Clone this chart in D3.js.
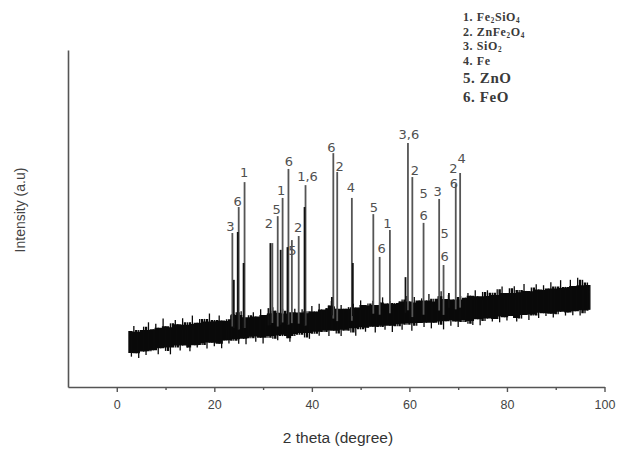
<!DOCTYPE html>
<html><head><meta charset="utf-8">
<script src="https://cdn.jsdelivr.net/npm/d3@7/dist/d3.min.js"></script>
<style>html,body{margin:0;padding:0;background:#fff;}svg{display:block;}</style>
</head><body>
<svg id="c" width="620" height="456"></svg>
<script>
// ---------- DATA ----------
const noiseStart = 2.5, noiseStep = 0.5;
const noiseHigh = [
16.6,15.6,18.1,16.4,16.9,16.3,17.9,16.9,19.2,16.9,
17.1,18.8,17.6,17.1,20.3,18.0,17.6,18.9,17.7,19.9,
18.6,18.0,20.4,18.5,19.2,18.2,21.2,18.7,19.1,20.2,
18.8,20.2,19.4,21.8,19.0,19.9,19.5,21.2,19.7,19.6,
20.1,19.6,21.6,21.3,22.2,21.4,22.5,20.7,20.4,21.3,
20.7,22.2,20.9,20.6,23.1,21.4,20.9,21.9,21.7,23.7,
22.6,22.0,21.4,23.2,21.8,22.6,21.5,22.2,23.2,21.9,
22.1,23.1,21.8,22.5,21.9,24.0,22.4,22.3,24.7,23.0,
22.5,23.4,24.2,25.5,23.9,23.2,22.8,24.3,23.2,23.2,
23.7,23.1,24.7,23.6,23.5,25.7,24.3,23.6,24.8,24.2,
25.6,24.3,23.9,25.1,26.6,24.3,24.8,25.5,24.1,24.9,
24.6,25.4,26.0,25.0,27.0,25.4,24.8,26.7,25.1,25.7,
26.3,25.1,25.7,27.6,25.4,26.2,25.2,26.9,28.4,25.7,
26.1,27.3,25.7,26.0,26.7,25.6,27.0,26.0,26.5,27.9,
27.1,26.3,28.7,26.9,26.4,28.2,26.9,28.7,27.0,28.0,
27.3,29.0,27.2,29.8,27.9,27.6,29.3,27.9,29.9,27.8,
28.8,28.1,30.6,28.5,28.4,29.5,28.3,30.5,28.9,28.8,
30.2,28.8,29.2,31.1,28.9,29.8,29.2,31.7,29.4,29.7,
29.5,31.8,30.0,29.5,32.4,30.2,31.8,29.9,31.0,30.3];
const noiseLow = [
10.1,9.0,10.7,10.0,8.6,10.9,10.5,9.5,11.1,10.6,
10.9,11.7,9.7,11.5,11.8,10.7,11.7,9.7,12.3,11.7,
12.4,10.8,12.3,12.8,11.7,10.6,13.0,12.4,11.7,13.0,
12.5,13.4,11.4,13.2,13.1,12.1,13.9,12.8,11.5,13.8,
13.9,12.9,14.3,13.7,14.2,12.8,14.6,14.3,12.7,14.9,
14.5,15.1,13.4,15.0,14.6,12.9,15.4,14.6,15.1,14.3,
15.3,13.9,15.5,15.1,15.8,14.5,13.4,15.7,15.1,16.0,
15.5,16.2,14.7,16.0,14.3,16.5,15.8,16.4,15.2,16.9,
16.3,16.8,15.1,17.0,16.7,15.9,17.3,15.1,17.0,16.7,
17.5,16.2,17.4,15.2,17.7,17.1,18.0,16.4,17.6,18.0,
17.9,16.2,18.4,17.8,18.2,17.0,18.7,18.2,16.3,18.6,
18.0,18.8,17.0,19.0,18.5,18.9,16.7,19.3,18.2,19.0,
19.3,17.8,19.1,19.6,17.4,19.1,19.4,18.5,19.7,17.1,
19.5,19.8,18.2,19.8,19.4,17.8,20.1,19.3,19.9,18.8,
19.6,18.4,20.3,20.1,18.3,20.5,19.6,20.3,20.9,19.4,
20.2,21.0,19.2,20.9,20.7,19.7,21.5,21.1,20.5,19.4,
21.5,20.3,21.4,21.9,19.9,21.5,21.2,22.1,20.5,22.0,
21.9,21.1,22.4,21.7,20.6,22.4,21.6,22.3,22.8,21.2,
22.1,22.7,21.3,22.5,22.8,21.2,23.1,21.9,22.7,22.9];

// main diffraction peaks: 2theta, intensity
const peakTheta = [23.7,25.0,26.2,31.9,33.0,34.0,35.2,35.9,37.3,38.7,44.4,45.2,48.2,52.6,53.9,56.0,59.7,60.6,62.9,66.1,67.0,69.5,70.4];
const peakIntensity = [45.7,53.4,60.8,42.7,50.7,56.1,64.7,43.6,44.8,59.9,69.4,63.8,56.1,51.3,38.6,46.6,72.4,62.3,48.7,55.8,36.2,60.2,63.5];
// minor (shoulder) peaks
const minorTheta = [24.0,24.8,26.0,31.5,31.1,33.6,35.0,38.5,44.1,48.4,59.2,68.1];
const minorIntensity = [31.8,46.0,36.8,42.7,23.4,40.7,41.5,53.4,26.7,36.8,32.6,27.9];

// phase annotations: text, 2theta, intensity level
const annText  = ["3","6","1","2","5","1","6","5","2","1,6","6","2","4","5","6","1","3,6","2","5","6","3","5","6","2","6","4"];
const annTheta = [23.3,24.8,26.1,31.2,32.8,33.7,35.3,36.0,37.2,39.1,44.0,45.7,48.0,52.7,54.3,55.5,59.9,61.1,62.9,62.9,65.8,67.2,67.2,69.0,69.1,70.7];
const annLevel = [46.3,53.8,62.4,47.2,51.3,57.0,65.7,39.2,46.0,61.1,69.7,64.1,57.9,51.9,39.7,47.2,73.6,62.9,56.1,49.6,56.7,44.2,37.4,63.5,59.1,66.5];

// legend: number, parts [text, isSubscript]
const legendItems = [
  ["1. ", [["Fe",0],["2",1],["SiO",0],["4",1]]],
  ["2. ", [["ZnFe",0],["2",1],["O",0],["4",1]]],
  ["3. ", [["SiO",0],["2",1]]],
  ["4. ", [["Fe",0]]],
  ["5. ", [["ZnO",0]]],
  ["6. ", [["FeO",0]]]
];

const xTicksMajor = [0,20,40,60,80,100];
const xTicksMinor = [10,30,50,70,90];
const xDomain = [-10,100];
const yDomain = [0,100];
const xTitle = "2 theta (degree)";
const yTitle = "Intensity (a.u)";

// ---------- DRAW ----------
const svg = d3.select("#c");
const x = d3.scaleLinear().domain(xDomain).range([68,604.5]);
const y = d3.scaleLinear().domain(yDomain).range([387,50]);

// noise: solid core (local median envelope) + thin vertical spikes per sample
const n = noiseHigh.length;
const med3 = (a,b,c)=> a+b+c - Math.max(a,b,c) - Math.min(a,b,c);
const band = noiseHigh.map((h,i)=>{
  const a = Math.max(0,i-1), b = Math.min(n-1,i+1);
  return {t: noiseStart + i*noiseStep, hi: h, lo: noiseLow[i],
    coreHi: med3(noiseHigh[a],h,noiseHigh[b]),
    coreLo: med3(noiseLow[a],noiseLow[i],noiseLow[b])};
});
svg.append("path").datum(band)
  .attr("d", d3.area().x(d=>x(d.t)).y0(d=>y(d.coreLo)).y1(d=>y(d.coreHi)).curve(d3.curveStep))
  .attr("fill","#0a0a0a");
svg.append("g").selectAll("line").data(band).join("line")
  .attr("x1",d=>x(d.t)).attr("x2",d=>x(d.t))
  .attr("y1",d=>y(d.lo)).attr("y2",d=>y(d.hi))
  .attr("stroke","#0a0a0a").attr("stroke-width",1.3);

function baseAt(t){
  const i = Math.max(0, Math.min(n-1, Math.round((t-noiseStart)/noiseStep)));
  return (noiseLow[i]+noiseHigh[i])/2;
}

// main peaks
svg.append("g").selectAll("line").data(peakTheta).join("line")
  .attr("x1",(d)=>x(d)).attr("x2",(d)=>x(d))
  .attr("y1",(d)=>y(baseAt(d))).attr("y2",(d,i)=>y(peakIntensity[i]))
  .attr("stroke","#555").attr("stroke-width",1.8);

// minor peaks
svg.append("g").selectAll("line").data(minorTheta).join("line")
  .attr("x1",(d)=>x(d)).attr("x2",(d)=>x(d))
  .attr("y1",(d)=>y(baseAt(d))).attr("y2",(d,i)=>y(minorIntensity[i]))
  .attr("stroke","#111").attr("stroke-width",1.8);

// annotations
svg.append("g").selectAll("text").data(annText).join("text")
  .attr("x",(d,i)=>x(annTheta[i])).attr("y",(d,i)=>y(annLevel[i]))
  .attr("text-anchor","middle")
  .attr("font-family","DejaVu Sans, Verdana, sans-serif").attr("font-size",13)
  .attr("fill","#505050").text(d=>d);

// x axis
const xAxisG = svg.append("g").attr("transform","translate(0,387)")
  .call(d3.axisBottom(x).tickValues(xTicksMajor).tickSize(5).tickSizeOuter(0).tickPadding(8).tickFormat(d3.format("d")));
xAxisG.select(".domain").attr("stroke","#555").attr("stroke-width",1.6);
xAxisG.selectAll(".tick line").attr("stroke","#555").attr("stroke-width",1.4);
xAxisG.selectAll(".tick text").attr("font-family","Liberation Sans, Arial, sans-serif").attr("font-size",12.5).attr("fill","#444");
const xMinorG = svg.append("g").attr("transform","translate(0,387)")
  .call(d3.axisBottom(x).tickValues(xTicksMinor).tickSize(3).tickFormat(""));
xMinorG.select(".domain").remove();
xMinorG.selectAll(".tick line").attr("stroke","#555").attr("stroke-width",1.4);

// y axis
const yAxisG = svg.append("g").attr("transform","translate(68,0)")
  .call(d3.axisLeft(y).tickValues([]).tickSizeOuter(0));
yAxisG.select(".domain").attr("stroke","#555").attr("stroke-width",1.6);

// titles
svg.append("text").attr("x",338).attr("y",443).attr("text-anchor","middle")
  .attr("font-family","Liberation Sans, Arial, sans-serif").attr("font-size",15.5).attr("fill","#333").text(xTitle);
svg.append("text").attr("transform","translate(25,210) rotate(-90)").attr("text-anchor","middle")
  .attr("font-family","Liberation Sans, Arial, sans-serif").attr("font-size",14).attr("fill","#444").text(yTitle);

// legend
const legendBase = [21,36,50,65,83,102];
const legendSize = [12,12,12,12,15,15];
const lg = svg.append("g");
legendItems.forEach((it,i)=>{
  const t = lg.append("text").attr("x",463).attr("y",legendBase[i])
    .attr("font-family","Liberation Serif, Times New Roman, serif").attr("font-weight","bold")
    .attr("letter-spacing",0.6)
    .attr("font-size",legendSize[i]).attr("fill","#3a3a3a");
  t.append("tspan").text(it[0]);
  it[1].forEach(p=>{
    const s = t.append("tspan").text(p[0]);
    if(p[1]) s.attr("font-size",legendSize[i]*0.6).attr("data-sub","1");
  });
  let shift = 0;
  t.selectAll("tspan").each(function(){
    const el = d3.select(this);
    const want = el.attr("data-sub") ? 2 : 0;
    el.attr("dy", want - shift);
    shift = want;
  });
});
</script>
</body></html>
